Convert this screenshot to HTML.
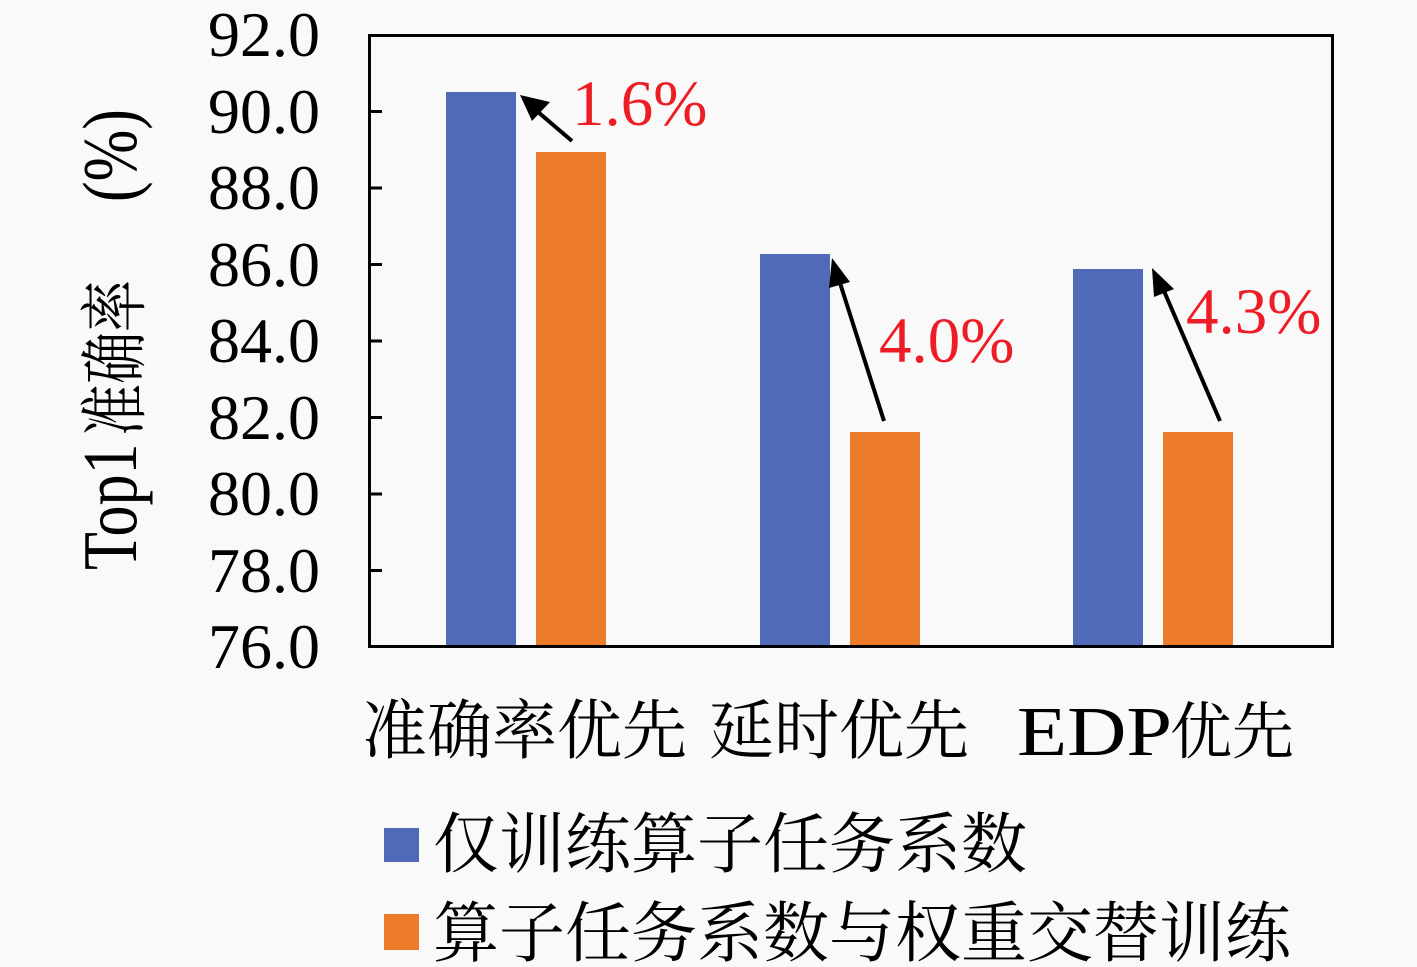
<!DOCTYPE html>
<html><head><meta charset="utf-8"><style>
html,body{margin:0;padding:0;background:#f9f9f9;}
svg{display:block;}
text{font-family:"Liberation Serif","Noto Serif CJK SC",serif;}
.cjk{font-family:"Liberation Serif","Noto Serif CJK SC","Noto Sans CJK SC",serif;}
</style></head><body>
<svg width="1417" height="967" viewBox="0 0 1417 967" xmlns="http://www.w3.org/2000/svg">
<rect x="0" y="0" width="1417" height="967" fill="#f9f9f9"/>

<!-- bars -->
<rect x="446" y="92" width="70" height="555" fill="#4f6bb7"/>
<rect x="536" y="152" width="70" height="495" fill="#ec7c2b"/>
<rect x="760" y="254" width="70" height="393" fill="#4f6bb7"/>
<rect x="850" y="432" width="70" height="215" fill="#ec7c2b"/>
<rect x="1073" y="269" width="70" height="378" fill="#4f6bb7"/>
<rect x="1163" y="432" width="70" height="215" fill="#ec7c2b"/>

<!-- frame -->
<rect x="369.5" y="35.5" width="963" height="611" fill="none" stroke="#000" stroke-width="3"/>
<!-- ticks -->
<g stroke="#000" stroke-width="3">
<line x1="369" y1="111.5" x2="382" y2="111.5"/>
<line x1="369" y1="188" x2="382" y2="188"/>
<line x1="369" y1="264.5" x2="382" y2="264.5"/>
<line x1="369" y1="341" x2="382" y2="341"/>
<line x1="369" y1="417.5" x2="382" y2="417.5"/>
<line x1="369" y1="494" x2="382" y2="494"/>
<line x1="369" y1="570.5" x2="382" y2="570.5"/>
</g>

<!-- y tick labels -->
<g font-size="64" text-anchor="end" fill="#000">
<text x="320" y="56">92.0</text>
<text x="320" y="133">90.0</text>
<text x="320" y="209">88.0</text>
<text x="320" y="286">86.0</text>
<text x="320" y="362">84.0</text>
<text x="320" y="439">82.0</text>
<text x="320" y="515">80.0</text>
<text x="320" y="592">78.0</text>
<text x="320" y="668">76.0</text>
</g>

<!-- y axis label -->
<g fill="#000">
<text transform="translate(136,570) rotate(-90) scale(1,1.25)" font-size="62">Top1</text>
<text class="cjk" transform="translate(139,436) rotate(-90) scale(1,1.32)" font-size="52">准确率</text>
<text transform="translate(136,202) rotate(-90) scale(1,1.25)" font-size="62">(%)</text>
</g>

<!-- arrows -->
<g stroke="#000" stroke-width="4" fill="none">
<line x1="572" y1="141" x2="538" y2="112"/>
<line x1="884" y1="421" x2="840" y2="283"/>
<line x1="1220" y1="421" x2="1164" y2="291"/>
</g>
<g fill="#000">
<polygon points="520,95 550,102 532,121"/>
<polygon points="832,258 850,282 829,288"/>
<polygon points="1152,268 1174,289 1154,297"/>
</g>

<!-- annotations -->
<g font-size="65" fill="#ee1c25">
<text x="572" y="125">1.6%</text>
<text x="879" y="362">4.0%</text>
<text x="1186" y="333">4.3%</text>
</g>

<!-- x labels -->
<g fill="#000">
<text class="cjk" x="362" y="753" font-size="65">准确率优先</text>
<text class="cjk" x="709" y="753" font-size="65">延时优先</text>
<text x="1017" y="755" font-size="70" textLength="155" lengthAdjust="spacingAndGlyphs">EDP</text>
<text class="cjk" x="1170" y="753" font-size="62">优先</text>
</g>

<!-- legend -->
<rect x="384" y="828" width="35" height="34" fill="#4f6bb7"/>
<rect x="384" y="914" width="35" height="36" fill="#ec7c2b"/>
<g fill="#000" class="cjk">
<text class="cjk" x="433" y="867" font-size="66">仅训练算子任务系数</text>
<text class="cjk" x="433" y="956" font-size="66">算子任务系数与权重交替训练</text>
</g>
</svg>
</body></html>
